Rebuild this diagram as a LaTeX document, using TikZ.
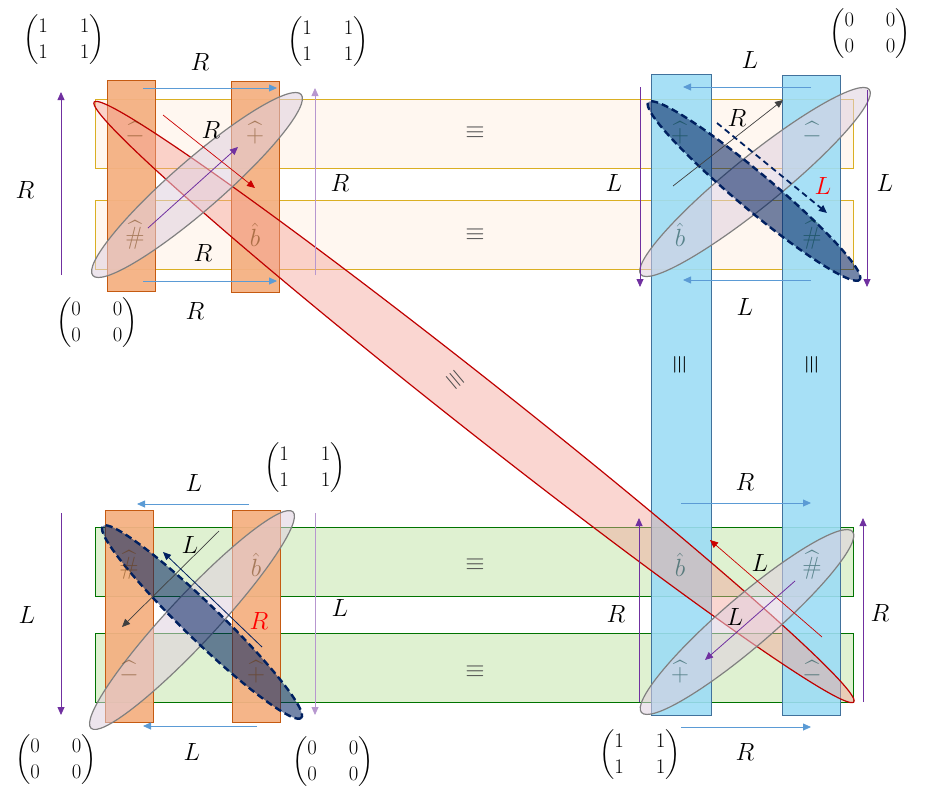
\documentclass[tikz,border=0pt]{standalone}
\usepackage{amsmath}
\usetikzlibrary{arrows.meta}
\definecolor{pur}{HTML}{7030A0}
\definecolor{lblu}{HTML}{5B9BD5}
\definecolor{orf}{HTML}{F4B183}
\definecolor{orb}{HTML}{C55A11}
\definecolor{blf}{HTML}{9DDDF5}
\definecolor{blb}{HTML}{41719C}
\definecolor{nav}{HTML}{002060}
\begin{document}
\begin{tikzpicture}[x=1pt,y=-1pt,
 ylw/.style={fill=orange!6!white,draw=yellow!55!orange!85!black,line width=0.9pt},
 grn/.style={fill=green!40!olive!18,draw=green!45!black,line width=0.9pt},
 org/.style={fill=orf,draw=orb,line width=0.9pt,fill opacity=0.95},
 blu/.style={fill=blf,draw=blb,line width=0.9pt,fill opacity=0.9},
 gell/.style={fill=gray!50!violet!25,fill opacity=0.55,draw=gray,line width=1.2pt},
 dell/.style={fill=nav,fill opacity=0.55,draw=nav,dash pattern=on 7pt off 4pt,line width=2.4pt},
 rell/.style={fill=red!60!brown!45!white,fill opacity=0.45,draw=red!75!black,line width=1.2pt},
 gb/.style={font=\fontsize{42}{44}\selectfont,text=orange!40!black,text opacity=0.5},
 gt/.style={font=\fontsize{42}{44}\selectfont,text=teal!50!black,text opacity=0.55},
 lb/.style={font=\fontsize{26}{30}\selectfont},
 mat/.style={font=\fontsize{22}{26}\selectfont},
 eq/.style={font=\fontsize{40}{42}\selectfont,text=black!70},
 tip/.style={-{Triangle[length=8pt,width=7pt]}},
 ba/.style={draw=lblu,line width=0.8pt,tip},
 pa/.style={draw=pur,line width=0.8pt,tip},
 pl/.style={draw=pur!50,line width=0.8pt,tip},
 ga/.style={draw=gray!50!black,line width=0.7pt,tip},
 ra/.style={draw=red!80!black,line width=0.7pt,tip},
 na/.style={draw=nav,line width=0.8pt,tip},
 nd/.style={draw=nav,line width=1.8pt,dash pattern=on 6pt off 4pt,tip}
]
\useasboundingbox (0,0) rectangle (928,790);
\newcommand{\mo}{$\left(\begin{matrix}1&\quad1\\1&\quad1\end{matrix}\right)$}
\newcommand{\mz}{$\left(\begin{matrix}0&\quad0\\0&\quad0\end{matrix}\right)$}
% horizontal bars
\draw[ylw] (95,99) rectangle (853,168);
\draw[ylw] (95,200) rectangle (853,269);
\draw[grn] (95,527) rectangle (853,596);
\draw[grn] (95,633) rectangle (853,702);
% vertical bars
\draw[org] (107,80) rectangle (155,291);
\draw[org] (231,81) rectangle (279,292);
\draw[org] (105,510) rectangle (153,722);
\draw[org] (232,510) rectangle (280,722);
\draw[blu] (651,74) rectangle (711,715);
\draw[blu] (782,75) rectangle (840,715);
% ellipses
\draw[rell,rotate around={-38.3:(474,402)}] (474,402) ellipse [x radius=484, y radius=26];
\draw[gell,rotate around={41:(197,185)}] (197,185) ellipse [x radius=138, y radius=25];
\draw[gell,rotate around={39:(755,182)}] (755,182) ellipse [x radius=147, y radius=25];
\draw[dell,rotate around={-40:(754,191)}] (754,191) ellipse [x radius=138, y radius=18];
\draw[gell,rotate around={47:(192,620)}] (192,620) ellipse [x radius=148, y radius=24];
\draw[dell,rotate around={-44:(202,622)}] (202,622) ellipse [x radius=138, y radius=18];
\draw[gell,rotate around={40.6:(747,622)}] (747,622) ellipse [x radius=139, y radius=25];
% glyphs
\node[gb] (a1) at (135,133) {$\widehat{-}$};
\node[gb] (a2) at (255,133) {$\widehat{+}$};
\node[gb] (a3) at (135,235) {$\widehat{\#}$};
\node[gb] (a4) at (255,235) {$\hat{b}$};
\node[gt] (b1) at (680,133) {$\widehat{+}$};
\node[gt] (b2) at (812,133) {$\widehat{-}$};
\node[gt] (b3) at (680,235) {$\hat{b}$};
\node[gt] (b4) at (812,235) {$\widehat{\#}$};
\node[gb] (c1) at (129,565) {$\widehat{\#}$};
\node[gb] (c2) at (256,565) {$\hat{b}$};
\node[gb] (c3) at (129,672) {$\widehat{-}$};
\node[gb] (c4) at (256,672) {$\widehat{+}$};
\node[gt] (d1) at (680,565) {$\hat{b}$};
\node[gt] (d2) at (812,565) {$\widehat{\#}$};
\node[gt] (d3) at (680,672) {$\widehat{+}$};
\node[gt] (d4) at (812,672) {$\widehat{-}$};
% equivalences
\node[eq] (e1) at (475,133) {$\equiv$};
\node[eq] (e2) at (475,235) {$\equiv$};
\node[eq] (e3) at (475,565) {$\equiv$};
\node[eq] (e4) at (475,672) {$\equiv$};
\node[eq,text=black,rotate=90] (e5) at (680,365) {$\equiv$};
\node[eq,text=black,rotate=90] (e6) at (812,365) {$\equiv$};
\node[eq,rotate=-50] (e7) at (455,380) {$\equiv$};
% coordinates for arrows
\foreach \n/\x/\y in {p1/143/88,p2/277/88,p3/143/281,p4/277/281,p5/61/275,p6/61/92,p7/315/275,p8/315/88,
 p9/148/228,p10/238/147,p11/163/115,p12/255/188,
 q1/811/87,q2/683/87,q3/811/280,q4/683/280,q5/640/87,q6/640/287,q7/867/90,q8/867/287,
 q9/673/186,q10/783/100,q11/717/123,q12/827/213,
 r1/249/504,r2/137/504,r3/257/726,r4/143/726,r5/61/513,r6/61/715,r7/315/513,r8/315/715,
 r9/219/531,r10/122/627,r11/262/647,r12/163/552,
 s1/681/503,s2/811/503,s3/681/727,s4/811/727,s5/639/702,s6/639/518,s7/863/702,s8/863/518,
 s9/822/637,s10/710/540,s11/795/581,s12/705/660}
 {\coordinate (\n) at (\x,\y);}
\draw[ba] (p1) -- (p2); \draw[ba] (p3) -- (p4);
\draw[pa] (p5) -- (p6); \draw[pl] (p7) -- (p8);
\draw[pa] (p9) -- (p10); \draw[ra] (p11) -- (p12);
\draw[ba] (q1) -- (q2); \draw[ba] (q3) -- (q4);
\draw[pa] (q5) -- (q6); \draw[pa] (q7) -- (q8);
\draw[ga] (q9) -- (q10); \draw[nd] (q11) -- (q12);
\draw[ba] (r1) -- (r2); \draw[ba] (r3) -- (r4);
\draw[pa] (r5) -- (r6); \draw[pl] (r7) -- (r8);
\draw[ga] (r9) -- (r10); \draw[na] (r11) -- (r12);
\draw[ba] (s1) -- (s2); \draw[ba] (s3) -- (s4);
\draw[pa] (s5) -- (s6); \draw[pa] (s7) -- (s8);
\draw[ra] (s9) -- (s10); \draw[pa] (s11) -- (s12);
% labels
\node[lb] (l1) at (200,62) {$R$};
\node[lb] (l2) at (211,130) {$R$};
\node[lb] (l3) at (340,183) {$R$};
\node[lb] (l4) at (203,253) {$R$};
\node[lb] (l5) at (195,311) {$R$};
\node[lb] (l6) at (25,190) {$R$};
\node[lb] (l7) at (750,60) {$L$};
\node[lb] (l8) at (737,118) {$R$};
\node[lb,text=red] (l9) at (823,186) {$L$};
\node[lb] (l10) at (614,183) {$L$};
\node[lb] (l11) at (885,183) {$L$};
\node[lb] (l12) at (745,307) {$L$};
\node[lb] (l13) at (194,483) {$L$};
\node[lb] (l14) at (190,545) {$L$};
\node[lb,text=red] (l15) at (259,621) {$R$};
\node[lb] (l16) at (27,615) {$L$};
\node[lb] (l17) at (340,608) {$L$};
\node[lb] (l18) at (192,752) {$L$};
\node[lb] (l19) at (745,482) {$R$};
\node[lb] (l20) at (760,563) {$L$};
\node[lb] (l21) at (735,617) {$L$};
\node[lb] (l22) at (616,614) {$R$};
\node[lb] (l23) at (880,613) {$R$};
\node[lb] (l24) at (745,752) {$R$};
% matrices
\node[mat] (m1) at (64,40) {\mo};
\node[mat] (m2) at (328,42) {\mo};
\node[mat] (m3) at (97,323) {\mz};
\node[mat] (m4) at (870,34) {\mz};
\node[mat] (m5) at (305,468) {\mo};
\node[mat] (m6) at (56,760) {\mz};
\node[mat] (m7) at (333,762) {\mz};
\node[mat] (m8) at (640,755) {\mo};
\end{tikzpicture}
\end{document}
